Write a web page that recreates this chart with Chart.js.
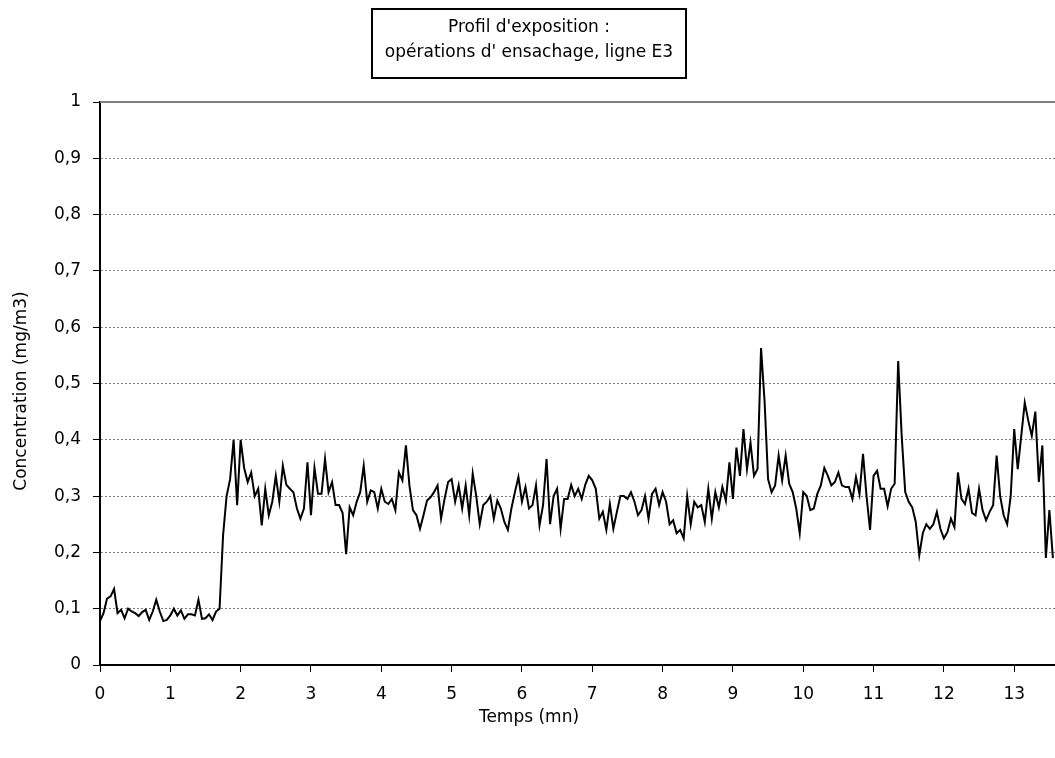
<!DOCTYPE html>
<html lang="fr">
<head>
  <meta charset="UTF-8" />
  <title>Profil d'exposition - ligne E3</title>
  <script src="https://cdn.jsdelivr.net/npm/chart.js"></script>
  <style>
    html, body { margin: 0; padding: 0; background: #fff; }
    #wrap { width: 1055px; height: 758px; position: relative; }
  </style>
</head>
<body>
  <div id="wrap"><canvas id="profil"></canvas></div>

  <script>
    // one reading every 0.05 min (3 s)
    const STEP = 0.05;

    // concentration (mg/m3), 0 - 1.95 mn
    const conc1 = [0.078, 0.092, 0.118, 0.122, 0.135, 0.092, 0.098, 0.083, 0.100, 0.095,
                   0.092, 0.087, 0.094, 0.098, 0.080, 0.095, 0.116, 0.095, 0.078, 0.080,
                   0.088, 0.100, 0.088, 0.097, 0.082, 0.090, 0.090, 0.088, 0.116, 0.082,
                   0.083, 0.090, 0.080, 0.095, 0.100, 0.230, 0.300, 0.330, 0.400, 0.284];
    // 2 - 3.95 mn
    const conc2 = [0.400, 0.350, 0.325, 0.342, 0.300, 0.313, 0.248, 0.313, 0.266, 0.290,
                   0.336, 0.290, 0.354, 0.320, 0.313, 0.307, 0.278, 0.260, 0.278, 0.360,
                   0.266, 0.350, 0.304, 0.304, 0.366, 0.307, 0.325, 0.284, 0.284, 0.270,
                   0.197, 0.280, 0.266, 0.290, 0.307, 0.354, 0.290, 0.310, 0.307, 0.278];
    // 4 - 5.95 mn
    const conc3 = [0.313, 0.290, 0.286, 0.295, 0.275, 0.342, 0.328, 0.390, 0.319, 0.275,
                   0.266, 0.242, 0.266, 0.292, 0.298, 0.307, 0.319, 0.260, 0.295, 0.325,
                   0.330, 0.290, 0.319, 0.278, 0.319, 0.266, 0.340, 0.300, 0.250, 0.284,
                   0.290, 0.300, 0.260, 0.292, 0.278, 0.254, 0.240, 0.278, 0.307, 0.334];
    // 6 - 7.95 mn
    const conc4 = [0.290, 0.316, 0.278, 0.284, 0.319, 0.248, 0.284, 0.366, 0.250, 0.300,
                   0.313, 0.242, 0.295, 0.295, 0.320, 0.300, 0.313, 0.295, 0.320, 0.336,
                   0.328, 0.313, 0.260, 0.272, 0.240, 0.286, 0.242, 0.272, 0.300, 0.300,
                   0.295, 0.307, 0.290, 0.266, 0.275, 0.300, 0.260, 0.304, 0.313, 0.284];
    // 8 - 9.95 mn
    const conc5 = [0.307, 0.290, 0.250, 0.257, 0.234, 0.240, 0.225, 0.300, 0.250, 0.290,
                   0.280, 0.284, 0.254, 0.313, 0.260, 0.307, 0.280, 0.316, 0.292, 0.360,
                   0.295, 0.386, 0.336, 0.419, 0.348, 0.395, 0.336, 0.348, 0.563, 0.469,
                   0.330, 0.307, 0.319, 0.372, 0.328, 0.372, 0.322, 0.307, 0.278, 0.234];
    // 10 - 11.95 mn
    const conc6 = [0.307, 0.300, 0.275, 0.278, 0.304, 0.319, 0.350, 0.336, 0.319, 0.325,
                   0.342, 0.319, 0.316, 0.316, 0.295, 0.334, 0.304, 0.375, 0.300, 0.240,
                   0.336, 0.345, 0.313, 0.313, 0.282, 0.313, 0.322, 0.540, 0.407, 0.307,
                   0.290, 0.280, 0.254, 0.195, 0.234, 0.250, 0.242, 0.250, 0.272, 0.242];
    // 12 - 13.55 mn
    const conc7 = [0.225, 0.236, 0.260, 0.245, 0.342, 0.295, 0.286, 0.313, 0.270, 0.266,
                   0.313, 0.275, 0.257, 0.272, 0.284, 0.372, 0.300, 0.266, 0.250, 0.300,
                   0.419, 0.348, 0.407, 0.466, 0.434, 0.407, 0.450, 0.325, 0.390, 0.190,
                   0.275, 0.190];

    const concentration = [...conc1, ...conc2, ...conc3, ...conc4, ...conc5, ...conc6, ...conc7];
    const temps = concentration.map((_, i) => +(i * STEP).toFixed(2));

    const xTicks = [0, 1, 2, 3, 4, 5, 6, 7, 8, 9, 10, 11, 12, 13];
    const yTickLabels = ['0', '0,1', '0,2', '0,3', '0,4', '0,5', '0,6', '0,7', '0,8', '0,9', '1'];
    const titleLines = ["Profil d'exposition :", "opérations d' ensachage, ligne E3"];
    const xTitle = 'Temps (mn)';
    const yTitle = 'Concentration (mg/m3)';

    const FONT = "'DejaVu Sans', sans-serif";
    Chart.defaults.font.family = FONT;
    Chart.defaults.font.size = 17;
    Chart.defaults.color = '#000';

    // framed title, axis titles and the solid top line of the plot
    const frame = {
      id: 'frame',
      beforeDatasetsDraw(chart) {
        const { ctx, chartArea } = chart;
        ctx.save();
        ctx.strokeStyle = '#808080';
        ctx.lineWidth = 2;
        ctx.beginPath();
        ctx.moveTo(chartArea.left, chartArea.top);
        ctx.lineTo(chartArea.right, chartArea.top);
        ctx.stroke();
        ctx.restore();
      },
      afterDraw(chart) {
        const ctx = chart.ctx;
        ctx.save();
        ctx.strokeStyle = '#000';
        ctx.lineWidth = 2;
        ctx.strokeRect(372, 9, 314, 69);
        ctx.fillStyle = '#000';
        ctx.font = '17px ' + FONT;
        ctx.textAlign = 'center';
        ctx.textBaseline = 'middle';
        ctx.fillText(titleLines[0], 529, 28);
        ctx.fillText(titleLines[1], 529, 53);
        ctx.fillText(xTitle, 529, 718);
        ctx.translate(22, 391);
        ctx.rotate(-Math.PI / 2);
        ctx.fillText(yTitle, 0, 0);
        ctx.restore();
      }
    };

    new Chart(document.getElementById('profil'), {
      type: 'line',
      data: {
        labels: temps,
        datasets: [{
          label: 'Concentration',
          data: concentration,
          borderColor: '#000',
          borderWidth: 2,
          pointRadius: 0,
          tension: 0,
          fill: false
        }]
      },
      options: {
        responsive: true,
        maintainAspectRatio: false,
        animation: false,
        layout: { padding: { top: 102, right: 0, bottom: 0, left: 0 } },
        plugins: {
          legend: { display: false },
          tooltip: { enabled: false }
        },
        scales: {
          x: {
            type: 'linear',
            min: 0,
            max: 13.58,
            afterBuildTicks(scale) {
              scale.ticks = xTicks.map(v => ({ value: v }));
            },
            afterFit(scale) { scale.height = 93; },
            ticks: { padding: 12, maxRotation: 0, autoSkip: false },
            grid: { drawOnChartArea: false, tickLength: 7, tickColor: '#000', tickWidth: 1 },
            border: { color: '#000', width: 2 }
          },
          y: {
            min: 0,
            max: 1,
            afterFit(scale) { scale.width = 100; },
            ticks: {
              stepSize: 0.1,
              padding: 12,
              callback: (v, i) => yTickLabels[i]
            },
            grid: {
              color: c => (c.tick && (c.tick.value === 0 || c.tick.value === 1)) ? 'rgba(0,0,0,0)' : '#808080',
              lineWidth: 1,
              tickLength: 7,
              tickColor: '#000',
              tickWidth: 1
            },
            border: { color: '#000', width: 2, dash: [2, 2] }
          }
        }
      },
      plugins: [frame]
    });
  </script>
</body>
</html>
